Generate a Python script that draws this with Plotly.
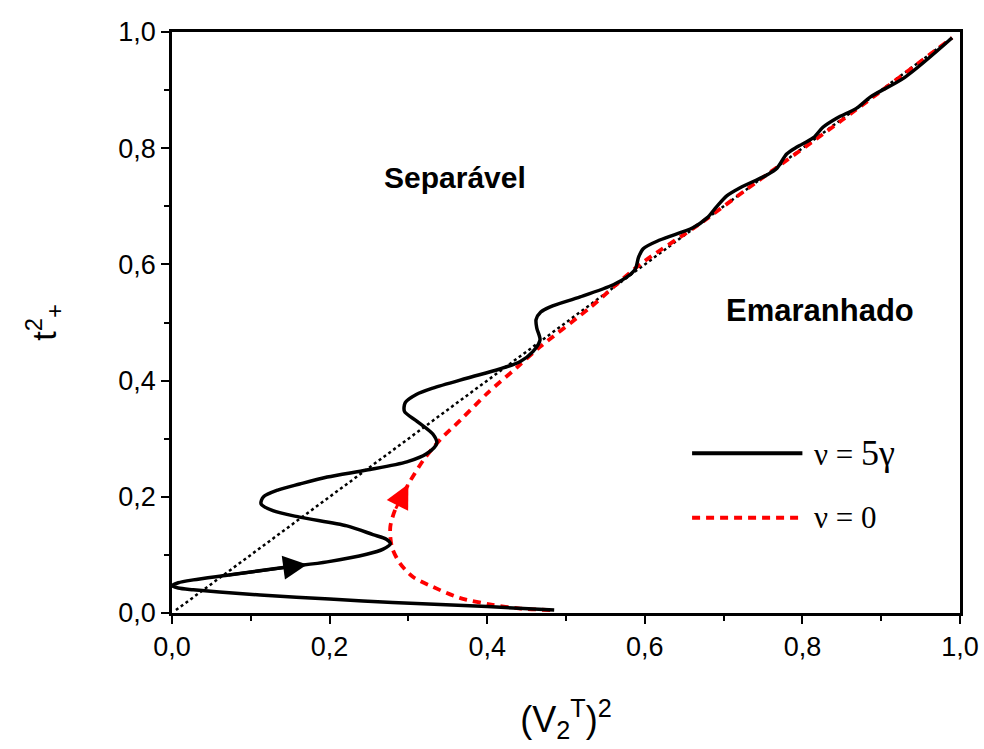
import plotly.graph_objects as go

# nu = 5 gamma (solid black)
x_nu5 = [0.485, 0.40, 0.28, 0.20, 0.112, 0.06, 0.027, 0.008, 0.0, 0.008, 0.027, 0.07,
         0.146, 0.197, 0.247, 0.268, 0.277, 0.272, 0.255, 0.222, 0.162, 0.128, 0.113,
         0.116, 0.135, 0.162, 0.197, 0.247, 0.298, 0.323, 0.336, 0.331, 0.311, 0.295,
         0.296, 0.31, 0.331, 0.374, 0.416, 0.442, 0.458, 0.467, 0.463, 0.462, 0.468,
         0.48, 0.518, 0.56, 0.577, 0.588, 0.592, 0.598, 0.619, 0.661, 0.679, 0.691,
         0.704, 0.721, 0.755, 0.768, 0.780, 0.793, 0.814, 0.826, 0.844, 0.869, 0.886,
         0.93, 0.99]
y_nu5 = [0.005, 0.011, 0.018, 0.024, 0.031, 0.036, 0.040, 0.043, 0.047, 0.052, 0.057, 0.065,
         0.079, 0.088, 0.101, 0.110, 0.119, 0.127, 0.135, 0.150, 0.165, 0.176, 0.188,
         0.200, 0.212, 0.222, 0.234, 0.246, 0.260, 0.274, 0.292, 0.308, 0.330, 0.347,
         0.362, 0.376, 0.387, 0.404, 0.420, 0.433, 0.450, 0.470, 0.490, 0.505, 0.518,
         0.527, 0.544, 0.565, 0.578, 0.592, 0.612, 0.627, 0.642, 0.663, 0.680, 0.699,
         0.718, 0.732, 0.754, 0.766, 0.790, 0.802, 0.818, 0.836, 0.852, 0.869, 0.888,
         0.922, 0.99]

# nu = 0 (red dashed)
x_nu0 = [0.48, 0.44, 0.407, 0.365, 0.331, 0.306, 0.289, 0.279, 0.277, 0.283, 0.292, 0.300,
         0.319, 0.340, 0.366, 0.400, 0.438, 0.467, 0.53, 0.594, 0.67, 0.73, 0.85, 0.99]
y_nu0 = [0.005, 0.008, 0.014, 0.026, 0.045, 0.062, 0.086, 0.114, 0.148, 0.177, 0.200, 0.222,
         0.263, 0.298, 0.332, 0.378, 0.423, 0.458, 0.525, 0.600, 0.670, 0.730, 0.848, 0.99]

# diagonal (dotted)
x_diag = [0.005, 0.99]
y_diag = [0.005, 0.99]

tick_vals = [0.0, 0.2, 0.4, 0.6, 0.8, 1.0]

FONT = "Liberation Sans"
SERIF = "Liberation Serif"

fig = go.Figure()
fig.add_trace(go.Scatter(x=x_diag, y=y_diag, mode="lines",
                         line=dict(color="black", width=2.5, dash="dot"), showlegend=False))
fig.add_trace(go.Scatter(x=x_nu0, y=y_nu0, mode="lines",
                         line=dict(color="#ff0000", width=3.8, dash="8px,6px", shape="spline", smoothing=0.8),
                         showlegend=False))
fig.add_trace(go.Scatter(x=x_nu5, y=y_nu5, mode="lines",
                         line=dict(color="black", width=3.5, shape="spline", smoothing=0.8),
                         showlegend=False))

# arrows along the curves
bx = (x_nu5[12] + x_nu5[13]) / 2
by = (y_nu5[12] + y_nu5[13]) / 2
fig.add_annotation(x=bx, y=by, ax=x_nu5[11], ay=y_nu5[11], xref="x", yref="y", axref="x", ayref="y",
                   showarrow=True, arrowhead=2, arrowsize=1.6, arrowwidth=3, arrowcolor="black", text="")
fig.add_annotation(x=x_nu0[11], y=y_nu0[11], ax=x_nu0[9], ay=y_nu0[9], xref="x", yref="y", axref="x", ayref="y",
                   showarrow=True, arrowhead=2, arrowsize=1.6, arrowwidth=3, arrowcolor="#ff0000", text="")

# region labels
fig.add_annotation(x=0.359, y=0.75, xref="x", yref="y", text="<b>Separável</b>", showarrow=False,
                   font=dict(family=FONT, size=30, color="black"))
fig.add_annotation(x=0.822, y=0.521, xref="x", yref="y", text="<b>Emaranhado</b>", showarrow=False,
                   font=dict(family=FONT, size=31, color="black"))

# manual legend
fig.add_shape(type="line", xref="paper", yref="paper", x0=0.66, x1=0.80, y0=0.275, y1=0.275,
              line=dict(color="black", width=4))
fig.add_shape(type="line", xref="paper", yref="paper", x0=0.66, x1=0.80, y0=0.164, y1=0.164,
              line=dict(color="#ff0000", width=4, dash="8px,6px"))
fig.add_annotation(x=0.812, y=0.275, xref="paper", yref="paper", xanchor="left", yanchor="middle",
                   text="ν = <span style='font-size:36px'>5γ</span>", showarrow=False,
                   font=dict(family=SERIF, size=31, color="black"))
fig.add_annotation(x=0.812, y=0.164, xref="paper", yref="paper", xanchor="left", yanchor="middle",
                   text="ν = 0", showarrow=False,
                   font=dict(family=SERIF, size=31, color="black"))

axis_common = dict(range=[0, 1], tickvals=tick_vals, tickformat=".1f", ticks="outside", ticklen=8,
                   tickwidth=2, tickcolor="black", showline=True, linecolor="black", linewidth=2.5,
                   mirror=True, showgrid=False, zeroline=False,
                   tickfont=dict(family=FONT, size=27, color="black"),
                   minor=dict(dtick=0.1, ticks="outside", ticklen=5, tickwidth=2, tickcolor="black"))

fig.update_xaxes(**axis_common,
                 title=dict(text="(V<sub>2</sub><sup>T</sup>)<sup>2</sup>", standoff=46,
                            font=dict(family=FONT, size=36, color="black")))
fig.update_yaxes(**axis_common,
                 title=dict(text="t<sup>2</sup><sub>+</sub>", standoff=52,
                            font=dict(family=FONT, size=34, color="black")))

fig.update_layout(width=984, height=749, separators=",.",
                  margin=dict(l=172, r=24, t=32, b=136, autoexpand=False),
                  plot_bgcolor="white", paper_bgcolor="white", showlegend=False)

fig.write_html("out.html")
